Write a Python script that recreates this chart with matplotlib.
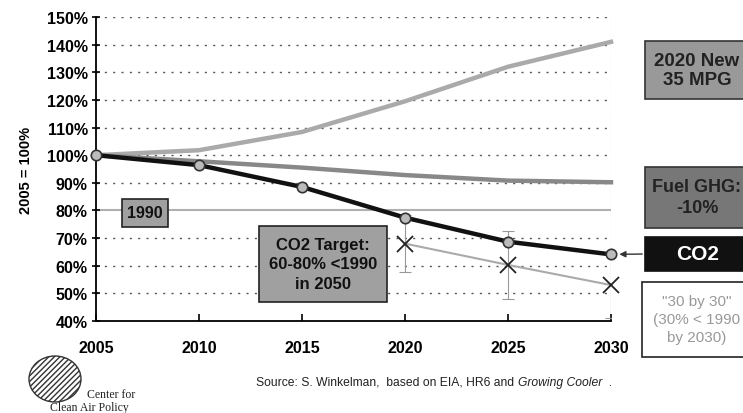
import numpy as np
import matplotlib.pyplot as plt
from matplotlib.patches import Rectangle, Ellipse

years = [2005, 2010, 2015, 2020, 2025, 2030]
co2 = [100, 96.4, 88.5, 77.4, 68.7, 64.1]
mpg35 = [100, 101.8, 108.4, 119.5, 132, 141]
fuel_ghg = [100, 97.8, 95.5, 92.8, 90.8, 90.2]

target_years = [2020, 2025, 2030]
target_vals = [68, 60.3, 53]
target_err = [10.3, 12.2, 12]

yticks = [40, 50, 60, 70, 80, 90, 100, 110, 120, 130, 140, 150]
level_1990 = 80

plt.rcParams['font.family'] = ['Liberation Sans', 'DejaVu Sans']

fig = plt.figure(figsize=(7.43, 4.14), dpi=100)
ax = fig.add_axes([96/743, 92/414, 515/743, 304/414])

# dotted grid
for v in yticks:
    if v == level_1990:
        ax.axhline(v, color='#b0b0b0', lw=1.5, zorder=1)
    elif v > 40:
        ax.axhline(v, color='#555555', lw=1.0, ls=(0, (1.5, 4.5)), zorder=1)
ax.axvline(2030, color='#888888', lw=0.8, ls=(0, (1, 1.5)), zorder=1)

ax.plot(years, mpg35, color='#aaaaaa', lw=3.2, zorder=3, clip_on=False)
ax.plot(years, fuel_ghg, color='#888888', lw=3.2, zorder=3, clip_on=False)

# 30 by 30 path with error bars
ax.errorbar(target_years, target_vals, yerr=target_err, fmt='none', ecolor='#999999',
            elinewidth=0.8, capsize=4, capthick=0.8, ls=':', zorder=2)
ax.plot(target_years, target_vals, color='#aaaaaa', lw=1.5, zorder=3, clip_on=False)
ax.plot(target_years, target_vals, ls='none', marker='x', ms=11, mew=1.3,
        color='#222222', zorder=5, clip_on=False)

ax.plot(years, co2, color='#111111', lw=3.2, marker='o', ms=7.5,
        mfc='#bbbbbb', mec='#333333', mew=1.2, zorder=4, clip_on=False)

ax.set_xlim(2005, 2030)
ax.set_ylim(40, 150)
ax.set_xticks(years)
ax.set_yticks(yticks)
ax.set_yticklabels([f'{v}%' for v in yticks])
for s in ['top', 'right']:
    ax.spines[s].set_visible(False)
ax.spines['left'].set_linewidth(1.3)
ax.spines['bottom'].set_linewidth(1.3)
ax.tick_params(axis='y', direction='inout', length=6, width=1.2, labelsize=11.5, pad=3)
ax.tick_params(axis='x', direction='in', length=5, width=1.2, labelsize=11.5, pad=14)
for lab in ax.get_xticklabels() + ax.get_yticklabels():
    lab.set_fontweight('bold')
ax.set_ylabel('2005 = 100%', fontsize=10.5, fontweight='bold', labelpad=10)


def fig_box(x0, y0, x1, y1, face, edge, lw=1.2):
    r = Rectangle((x0/743, 1 - y1/414), (x1 - x0)/743, (y1 - y0)/414,
                  transform=fig.transFigure, facecolor=face, edgecolor=edge,
                  lw=lw, zorder=10)
    fig.patches.append(r)


def fig_text(x, y, s, **kw):
    return fig.text(x/743, 1 - y/414, s, ha='center', va='center', zorder=11, **kw)


# boxes on the plot
fig_box(122, 200, 168, 228, '#a0a0a0', '#222222')
fig_text(145, 214, '1990', fontsize=11.5, fontweight='bold', color='#111111')

fig_box(259, 227, 387, 303, '#a0a0a0', '#222222')
fig_text(323, 265, 'CO2 Target:\n60-80% <1990\nin 2050', fontsize=12,
         fontweight='bold', color='#111111', linespacing=1.35)

# right-side labels
fig_box(645, 42, 748, 100, '#999999', '#333333')
fig_text(697, 71, '2020 New\n35 MPG', fontsize=13.5, fontweight='bold',
         color='#222222', linespacing=1.1)

fig_box(645, 168, 748, 229, '#777777', '#333333')
fig_text(697, 198, 'Fuel GHG:\n-10%', fontsize=13, fontweight='bold',
         color='#222222', linespacing=1.25)

fig_box(645, 238, 748, 272, '#111111', '#111111')
fig_text(698, 255, 'CO2', fontsize=15, fontweight='bold', color='white')

fig_box(642, 283, 748, 358, 'white', '#222222')
fig_text(697, 320, '"30 by 30"\n(30% < 1990\nby 2030)', fontsize=11,
         color='#999999', linespacing=1.4)

ax.annotate('', xy=(2030, co2[-1]), xycoords='data',
            xytext=(645/743, 1 - 255/414), textcoords='figure fraction',
            arrowprops=dict(arrowstyle='-|>', color='#333333', lw=1.0,
                            shrinkB=6, mutation_scale=9), zorder=9)

# source line, pieces placed one after another
renderer = fig.canvas.get_renderer()
x = 256
for piece, style in [('Source: S. Winkelman,  based on EIA, HR6 and ', 'normal'),
                     ('Growing Cooler', 'italic'), ('  .', 'normal')]:
    t = fig.text(x/743, 1 - 383/414, piece, fontsize=8.7, style=style,
                 color='#222222', va='center')
    x = t.get_window_extent(renderer).x1

# logo
logo = Ellipse((55/743, 1 - 380/414), 52/743, 46/414, transform=fig.transFigure,
               facecolor='white', edgecolor='#333333', hatch='//////', lw=1.0)
fig.patches.append(logo)
fig.text(87/743, 1 - 395/414, 'Center for', fontsize=8.5, family='Liberation Serif',
         color='#222222', va='center')
fig.text(50/743, 1 - 408/414, 'Clean Air Policy', fontsize=8.5, family='Liberation Serif',
         color='#222222', va='center')

fig.savefig('out.png', dpi=100)
